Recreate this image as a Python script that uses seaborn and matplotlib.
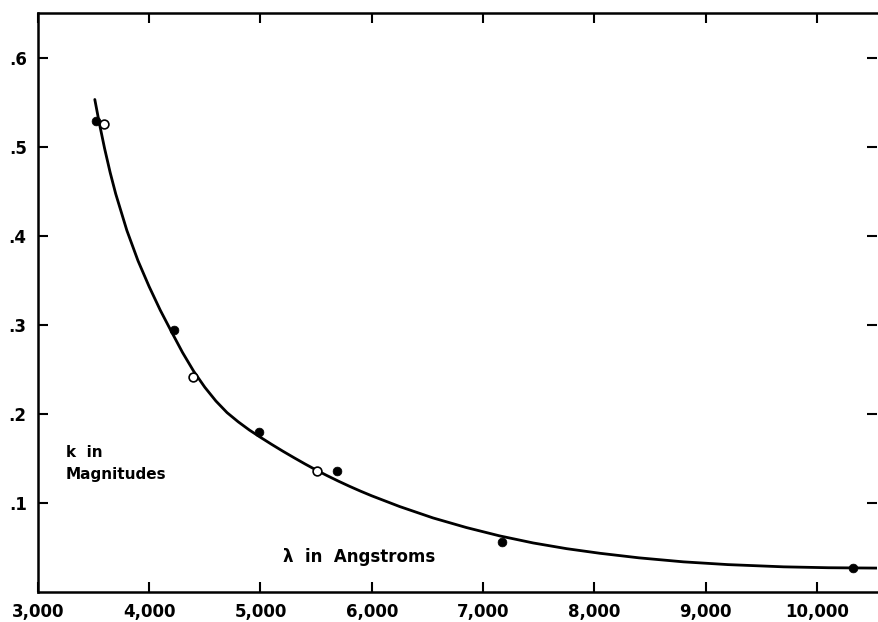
import pandas as pd
import matplotlib
matplotlib.use("Agg")
import matplotlib.pyplot as plt
import seaborn as sns

# observed extinction points (filled and open circles)
filled_wl = [3520, 4222, 4985, 5686, 7169, 10322]
filled_k = [0.529, 0.294, 0.180, 0.136, 0.056, 0.027]
open_wl = [3593, 4390, 5507]
open_k = [0.525, 0.241, 0.136]

# smooth curve
curve_wl = [3512, 3550, 3600, 3650, 3700, 3800, 3900, 4000, 4100, 4200, 4300,
            4400, 4500, 4600, 4700, 4800, 4900, 5000, 5100, 5200, 5300, 5400,
            5500, 5600, 5700, 5800, 5900, 6000, 6250, 6550, 6850, 7150, 7450,
            7750, 8050, 8400, 8800, 9200, 9700, 10100, 10540]
curve_k = [0.553, 0.528, 0.498, 0.471, 0.447, 0.406, 0.372, 0.343, 0.3165, 0.2925,
           0.2690, 0.2480, 0.2300, 0.2145, 0.2015, 0.1912, 0.1820, 0.1738, 0.1659,
           0.1583, 0.1510, 0.1439, 0.1371, 0.1307, 0.1246, 0.1188, 0.1133, 0.1081,
           0.0961, 0.0833, 0.0725, 0.0631, 0.0552, 0.0488, 0.0436, 0.0385, 0.0340,
           0.0309, 0.0284, 0.0274, 0.0270]

x_ticks = [3000, 4000, 5000, 6000, 7000, 8000, 9000, 10000]
x_labels = ['3,000', '4,000', '5,000', '6,000', '7,000', '8,000', '9,000', '10,000']
y_ticks = [0.1, 0.2, 0.3, 0.4, 0.5, 0.6]
y_labels = ['.1', '.2', '.3', '.4', '.5', '.6']

df_curve = pd.DataFrame({'wl': curve_wl, 'k': curve_k})
df_filled = pd.DataFrame({'wl': filled_wl, 'k': filled_k})
df_open = pd.DataFrame({'wl': open_wl, 'k': open_k})

sns.set_style("ticks")
plt.rcParams['font.family'] = ['DejaVu Sans']
plt.rcParams['text.color'] = 'black'

fig = plt.figure(figsize=(8.79, 6.22), dpi=100)
ax = fig.add_axes([0.043, 0.048, 0.955, 0.931])

sns.lineplot(x='wl', y='k', data=df_curve, sort=False, color='black', linewidth=2,
             ax=ax)
sns.scatterplot(x='wl', y='k', data=df_filled, color='black', edgecolor='black',
                s=40, zorder=3, ax=ax)
sns.scatterplot(x='wl', y='k', data=df_open, color='white', edgecolor='black',
                linewidth=1.2, s=40, zorder=3, ax=ax)

ax.set_xlim(3000, 10540)
ax.set_ylim(0, 0.65)
ax.set_xticks(x_ticks)
ax.set_xticklabels(x_labels)
ax.set_yticks(y_ticks)
ax.set_yticklabels(y_labels)
ax.set_xlabel('')
ax.set_ylabel('')

ax.tick_params(direction='in', length=7, width=1.5, top=True, right=True,
               labelsize=12, pad=8, colors='black')
for lab in ax.get_xticklabels() + ax.get_yticklabels():
    lab.set_fontweight('bold')
for side in ['left', 'bottom', 'top']:
    ax.spines[side].set_linewidth(1.8)
    ax.spines[side].set_color('black')
ax.spines['right'].set_visible(False)

ax.text(3250, 0.165, 'k  in\nMagnitudes', fontsize=11, fontweight='bold',
        color='black', va='top', ha='left', linespacing=1.6)
ax.text(5200, 0.039, 'λ  in  Angstroms', fontsize=12, fontweight='bold',
        color='black', va='center', ha='left')

fig.savefig('out.png', dpi=100)
